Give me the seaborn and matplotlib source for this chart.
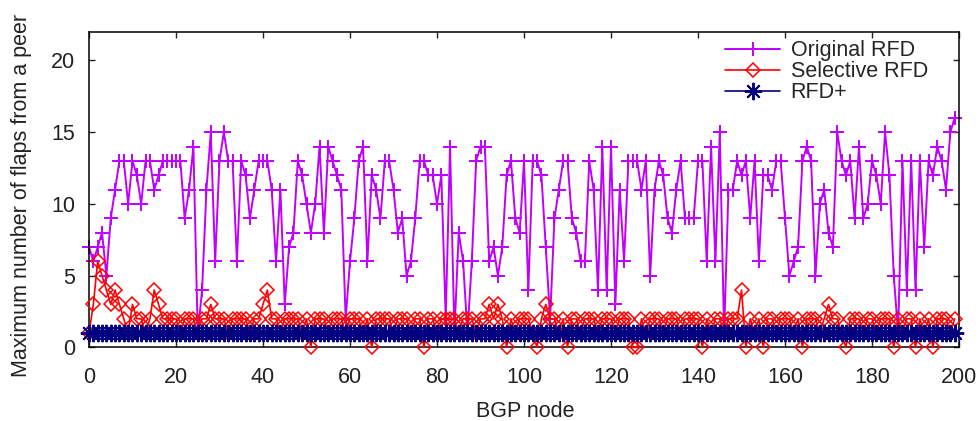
import numpy as np
import pandas as pd
import matplotlib
matplotlib.use("Agg")
import matplotlib.pyplot as plt
import seaborn as sns

# BGP node ids
nodes = np.arange(200)

original_rfd = [
    7, 6, 7, 8, 5, 9, 11, 13, 13, 10, 13, 12, 10, 13, 13, 11, 12, 13, 13, 13,
    13, 13, 9, 11, 14, 1, 4, 11, 15, 6, 13, 15, 13, 13, 6, 13, 12, 9, 11, 13,
    13, 13, 11, 6, 11, 3, 7, 8, 13, 12, 10, 8, 10, 14, 8, 14, 13, 12, 11, 2,
    6, 9, 13, 14, 6, 12, 11, 9, 13, 13, 11, 8, 9, 5, 6, 9, 13, 13, 12, 12,
    10, 12, 2, 14, 1, 8, 6, 1, 6, 13, 14, 14, 6, 7, 5, 7, 12, 13, 9, 8,
    13, 4, 13, 13, 12, 7, 2, 9, 11, 13, 13, 9, 8, 6, 6, 13, 11, 4, 14, 4,
    14, 3, 11, 6, 13, 13, 13, 11, 13, 5, 11, 13, 12, 9, 8, 11, 13, 9, 9, 9,
    13, 13, 6, 14, 6, 15, 1, 11, 11, 13, 12, 13, 9, 13, 6, 12, 12, 11, 13, 13,
    9, 5, 6, 7, 13, 14, 13, 5, 10, 11, 8, 7, 15, 13, 12, 13, 9, 14, 9, 10,
    13, 12, 10, 15, 12, 5, 1, 13, 4, 13, 4, 13, 7, 13, 12, 14, 13, 11, 15, 16,
]

selective_rfd = [
    1, 3, 6, 5, 4, 3, 4, 3, 2, 1, 3, 2, 2, 1, 2, 4, 3, 2, 2, 2,
    2, 1, 2, 2, 2, 1, 2, 2, 3, 2, 2, 2, 1, 2, 2, 2, 2, 1, 2, 2,
    3, 4, 2, 2, 1, 2, 2, 2, 2, 1, 2, 0, 2, 2, 2, 1, 2, 2, 2, 1,
    2, 2, 2, 1, 2, 0, 2, 2, 2, 2, 1, 2, 2, 2, 1, 2, 2, 0, 2, 2,
    1, 2, 2, 2, 2, 1, 2, 2, 2, 1, 2, 2, 3, 2, 3, 2, 0, 2, 1, 2,
    2, 2, 1, 0, 2, 3, 2, 2, 1, 2, 0, 2, 2, 1, 2, 2, 2, 1, 2, 2,
    2, 1, 2, 2, 2, 0, 0, 2, 1, 2, 2, 2, 1, 2, 2, 2, 1, 2, 2, 2,
    2, 0, 2, 1, 2, 2, 1, 2, 2, 2, 4, 0, 2, 1, 2, 0, 2, 2, 1, 2,
    2, 2, 1, 2, 0, 2, 2, 2, 1, 2, 3, 2, 2, 1, 0, 2, 2, 2, 1, 2,
    2, 1, 2, 2, 2, 0, 2, 1, 2, 2, 0, 2, 1, 2, 0, 2, 2, 2, 1, 2,
]

rfd_plus = [
    1, 1, 1, 1, 1, 1, 1, 1, 1, 1, 1, 1, 1, 1, 1, 1, 1, 1, 1, 1,
    1, 1, 1, 1, 1, 1, 1, 1, 1, 1, 1, 1, 1, 1, 1, 1, 1, 1, 1, 1,
    1, 1, 1, 1, 1, 1, 1, 1, 1, 1, 1, 1, 1, 1, 1, 1, 1, 1, 1, 1,
    1, 1, 1, 1, 1, 1, 1, 1, 1, 1, 1, 1, 1, 1, 1, 1, 1, 1, 1, 1,
    1, 1, 1, 1, 1, 1, 1, 1, 1, 1, 1, 1, 1, 1, 1, 1, 1, 1, 1, 1,
    1, 1, 1, 1, 1, 1, 1, 1, 1, 1, 1, 1, 1, 1, 1, 1, 1, 1, 1, 1,
    1, 1, 1, 1, 1, 1, 1, 1, 1, 1, 1, 1, 1, 1, 1, 1, 1, 1, 1, 1,
    1, 1, 1, 1, 1, 1, 1, 1, 1, 1, 1, 1, 1, 1, 1, 1, 1, 1, 1, 1,
    1, 1, 1, 1, 1, 1, 1, 1, 1, 1, 1, 1, 1, 1, 1, 1, 1, 1, 1, 1,
    1, 1, 1, 1, 1, 1, 1, 1, 1, 1, 1, 1, 1, 1, 1, 1, 1, 1, 1, 1,
]

x_ticks = [0, 20, 40, 60, 80, 100, 120, 140, 160, 180, 200]
y_ticks = [0, 5, 10, 15, 20]

sns.set_style("ticks")
plt.rcParams["font.family"] = ["Liberation Sans", "DejaVu Sans"]

fig = plt.figure(figsize=(9.79, 4.21), dpi=100)
ax = fig.add_axes([0.0909, 0.1746, 0.8887, 0.7501])

text_color = "#222222"
purple = "#c000ff"
red = "#ff0000"
navy = "#000080"

sns.lineplot(x=nodes, y=original_rfd, ax=ax, color=purple, linewidth=1.4,
             marker="+", markersize=10, markeredgewidth=1.4,
             markeredgecolor=purple, label="Original RFD", zorder=2,
             clip_on=False)
sns.lineplot(x=nodes, y=selective_rfd, ax=ax, color=red, linewidth=1.2,
             marker="D", markersize=7, markerfacecolor="none",
             markeredgecolor=red, markeredgewidth=1.1,
             label="Selective RFD", zorder=3, clip_on=False)
sns.lineplot(x=nodes, y=rfd_plus, ax=ax, color=navy, linewidth=1.2,
             marker=(8, 2, 0), markersize=12.5, markeredgewidth=1.4,
             markeredgecolor=navy, label="RFD+", zorder=4, clip_on=False)

ax.set_xlim(0, 200)
ax.set_ylim(0, 22)
ax.set_xticks(x_ticks)
ax.set_yticks(y_ticks)
ax.tick_params(direction="in", length=4, width=1, top=True, right=True,
               labelsize=15.5, colors=text_color, pad=10)
ax.tick_params(axis="x", pad=14)
for side in ax.spines.values():
    side.set_linewidth(1.1)
    side.set_color("black")
    side.set_visible(True)

ax.set_xlabel("BGP node", fontsize=15.5, color=text_color)
ax.set_ylabel("Maximum number of flaps from a peer", fontsize=15.5,
              color=text_color)
ax.xaxis.set_label_coords(0.501, -0.17)
ax.yaxis.set_label_coords(-0.066, 0.48)

ax.legend(loc="upper left", bbox_to_anchor=(0.7215, 1.0), frameon=False,
          fontsize=15.5, handlelength=2.56, handletextpad=0.47,
          labelspacing=0.0, numpoints=1, borderaxespad=0)

fig.savefig("out.png", dpi=100)
